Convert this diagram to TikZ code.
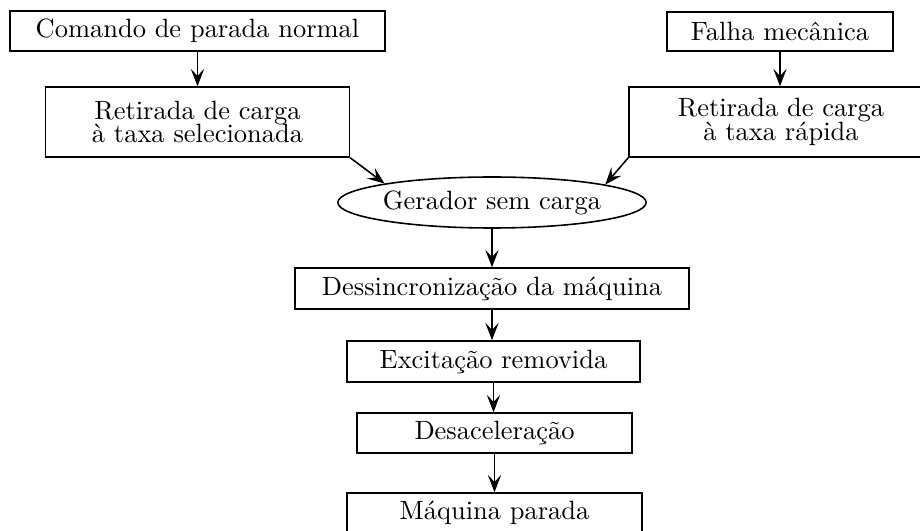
\documentclass[tikz,border=0pt]{standalone}
\usetikzlibrary{arrows.meta,shapes.geometric}
\begin{document}
\begin{tikzpicture}[x=0.378pt,y=-0.378pt,
  box/.style={draw,line width=0.6pt,rectangle,inner sep=0pt,align=center,font=\normalsize},
  oval/.style={draw,line width=0.6pt,ellipse,inner sep=0pt,align=center},
  arr/.style={line width=0.6pt,-{Stealth[length=6.5pt,width=5pt,inset=2.6pt]}}]
\useasboundingbox (0,0) rectangle (920,531);
\clip (0,0) rectangle (920,531);
\node[box,minimum width=375*0.378pt,minimum height=40*0.378pt] (cmd) at (197.5,31) {Comando de parada normal};
\node[box,minimum width=226*0.378pt,minimum height=39*0.378pt] (falha) at (780,31.5) {Falha mecânica};
\node[box,minimum width=304*0.378pt,minimum height=70*0.378pt] (ret1) at (197.5,122) {Retirada de carga\\[-3pt]à taxa selecionada};
\node[box,minimum width=304*0.378pt,minimum height=70*0.378pt] (ret2) at (781,122) {Retirada de carga\\[-3pt]à taxa rápida};
\node[oval,minimum width=304*0.378pt,minimum height=51*0.378pt] (ger) at (492,202.5) {Gerador sem carga};
\node[box,minimum width=394*0.378pt,minimum height=41*0.378pt] (dess) at (492,288.5) {Dessincronização da máquina};
\node[box,minimum width=293*0.378pt,minimum height=41*0.378pt] (exc) at (493.5,361.5) {Excitação removida};
\node[box,minimum width=275*0.378pt,minimum height=40*0.378pt] (desac) at (494.5,433) {Desaceleração};
\node[box,minimum width=295*0.378pt,minimum height=40*0.378pt] (maq) at (494.5,513) {Máquina parada};
\draw[arr] (cmd.south) -- (cmd.south |- ret1.north);
\draw[arr] (falha.south) -- (falha.south |- ret2.north);
\draw[arr] (ret1.south east) -- (ger.170.5);
\draw[arr] (ret2.south west) -- (ger.9.5);
\draw[arr] (ger.south) -- (ger.south |- dess.north);
\draw[arr] (dess.south) -- (dess.south |- exc.north);
\draw[arr] (exc.south) -- (exc.south |- desac.north);
\draw[arr] (desac.south) -- (desac.south |- maq.north);
\end{tikzpicture}
\end{document}
